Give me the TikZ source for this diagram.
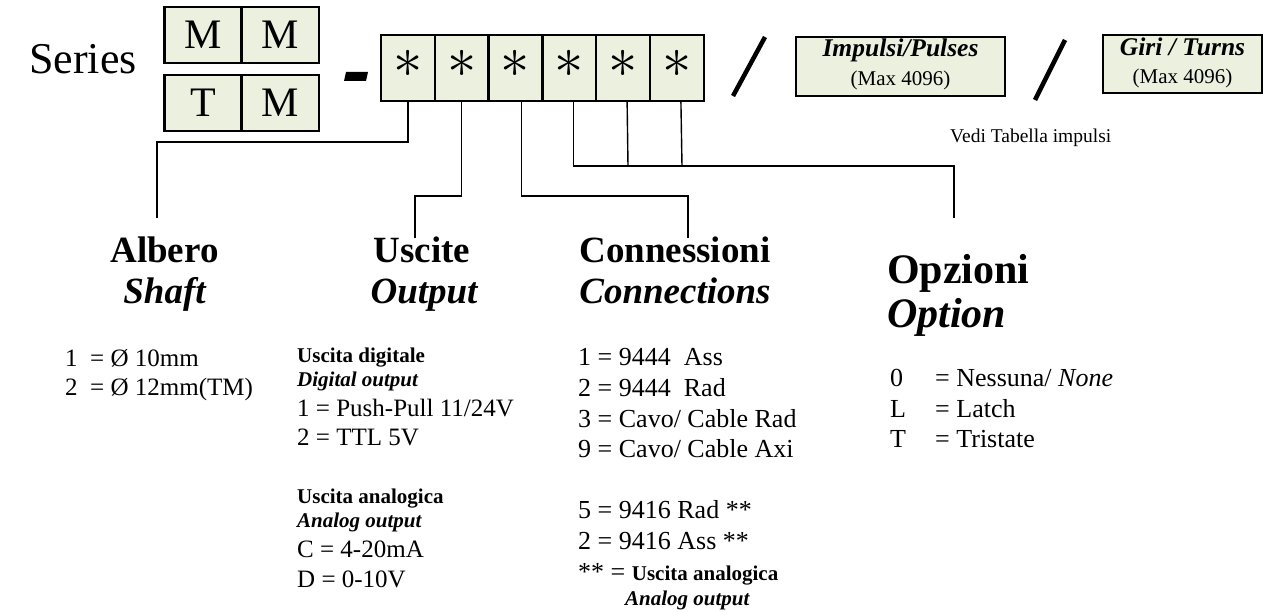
\documentclass[tikz,border=0pt]{standalone}
\usepackage{fontspec}
\setmainfont{Liberation Serif}
\definecolor{boxfill}{HTML}{EBF1DE}
\newcommand{\fs}[1]{\fontsize{#1}{#1}\selectfont}
\tikzset{
  cell/.style={draw, line width=2.4pt, fill=boxfill, inner sep=0pt, outer sep=0pt},
  lettercell/.style={cell, minimum width=77pt, minimum height=56pt, font=\fs{42}},
  starcell/.style={cell, minimum width=53.8pt, minimum height=66pt},
  infobox/.style={cell},
  boxtitle/.style={anchor=base, inner sep=0pt, font=\fs{25.5}\bfseries\itshape},
  boxsub/.style={anchor=base, inner sep=0pt, font=\fs{21}},
  conn/.style={line width=1.4pt},
  slashline/.style={line width=4.5pt},
  head/.style={anchor=base, inner sep=0pt, font=\fs{37}\bfseries},
  headit/.style={anchor=base, inner sep=0pt, font=\fs{37}\bfseries\itshape},
  item/.style={anchor=base west, inner sep=0pt, font=\fs{25}},
  smallb/.style={anchor=base west, inner sep=0pt, font=\fs{21}\bfseries},
  smallbi/.style={anchor=base west, inner sep=0pt, font=\fs{21}\bfseries\itshape},
}
\newcommand{\bigast}{\raisebox{8pt}{\scalebox{2.35}{\fs{24.88}$\ast$}}}
\begin{document}
\begin{tikzpicture}[x=1pt,y=-1pt]
\useasboundingbox (0,0) rectangle (1277,612);
% Series label
\node[anchor=base west, inner sep=0pt, font=\fs{44}] (series) at (29,74) {Series};
% MM / TM boxes
\node[lettercell] (m1) at (203,35) {M};
\node[lettercell] (m2) at (280.5,35) {M};
\node[lettercell] (t1) at (203,103) {T};
\node[lettercell] (t2) at (280.5,103) {M};
% dash
\fill (346,72) -- (368,72) -- (366,81) -- (344,81) -- cycle;
% star cells
\foreach \i in {1,...,6}{
  \node[starcell] (s\i) at ({381+26.9+53.8*(\i-1)},68) {\bigast};
}
% slashes
\coordinate (sl1a) at (733,96); \coordinate (sl1b) at (765,37);
\draw[slashline] (sl1a) -- (sl1b);
\coordinate (sl2a) at (1035,100); \coordinate (sl2b) at (1065,40);
\draw[slashline] (sl2a) -- (sl2b);
% info boxes
\node[infobox, minimum width=209pt, minimum height=59pt] (imp) at (900.5,66.5) {};
\node[boxtitle] (impt) at ([yshift=9.5pt]imp.center) {Impulsi/Pulses};
\node[boxsub] (imps) at ([yshift=-19.5pt]imp.center) {(Max 4096)};
\node[infobox, minimum width=159pt, minimum height=58pt] (giri) at (1182.5,64) {};
\node[boxtitle] (girit) at ([yshift=8pt]giri.center) {Giri / Turns};
\node[boxsub] (giris) at ([yshift=-20pt]giri.center) {(Max 4096)};
\node[anchor=base west, inner sep=0pt, font=\fs{19.5}] (vedi) at (950,143) {Vedi Tabella impulsi};
% connector coordinates
\coordinate (a1) at (157,142); \coordinate (a2) at (157,218);
\coordinate (u1) at (415,196); \coordinate (u2) at (415,238);
\coordinate (c1) at (688,196); \coordinate (c2) at (688,238);
\coordinate (o1) at (954,166); \coordinate (o2) at (954,218);
\coordinate (j5) at (628,166); \coordinate (j6) at (682,166);
\draw[conn] (s1.south) |- (a1) -- (a2);
\draw[conn] (s2.south) |- (u1) -- (u2);
\draw[conn] ([xshift=6pt]s3.south) |- (c1) -- (c2);
\draw[conn] ([xshift=4pt]s4.south) |- (o1) -- (o2);
\draw[conn] ([xshift=4pt]s5.south) -- (j5);
\draw[conn] ([xshift=4pt]s6.south) -- (j6);
% headings
\node[head] (albero) at (164.5,263) {Albero};
\node[headit] (shaft) at (164.5,304) {Shaft};
\node[head] (uscite) at (422,263) {Uscite};
\node[headit] (output) at (424,304) {Output};
\node[head] (conn) at (675,263) {Connessioni};
\node[headit] (connect) at (675,304) {Connections};
\node[anchor=base west, inner sep=0pt, font=\fs{42}\bfseries] (opz) at (887,284) {Opzioni};
\node[anchor=base west, inner sep=0pt, font=\fs{42}\bfseries\itshape] (opt) at (887,327) {Option};
% Albero list
\node[item] (al1) at (65,366) {1\ \ = Ø 10mm};
\node[item] (al2) at (65,395) {2\ \ = Ø 12mm(TM)};
% Uscite list
\node[smallb] (ud) at (297,362) {Uscita digitale};
\node[smallbi] (do) at (297,386) {Digital output};
\node[item] (u1t) at (297,416) {1\ = Push-Pull 11/24V};
\node[item] (u2t) at (297,445) {2\ = TTL 5V};
\node[smallb] (ua) at (297,503) {Uscita analogica};
\node[smallbi] (ao) at (297,527) {Analog output};
\node[item] (uct) at (297,557) {C = 4-20mA};
\node[item] (udt) at (297,587) {D = 0-10V};
% Connessioni list
\node[item, font=\fs{26}] (k1) at (578,365) {1 = 9444\ \ Ass};
\node[item, font=\fs{26}] (k2) at (578,396) {2 = 9444\ \ Rad};
\node[item, font=\fs{26}] (k3) at (578,427) {3 = Cavo/ Cable Rad};
\node[item, font=\fs{26}] (k9) at (578,457) {9 = Cavo/ Cable Axi};
\node[item, font=\fs{26}] (k5) at (578,518) {5 = 9416 Rad **};
\node[item, font=\fs{26}] (k2b) at (578,549) {2 = 9416 Ass **};
\node[item, font=\fs{26}] (kst) at (578,580) {** = {\fs{21}\bfseries Uscita analogica}};
\node[smallbi] (kao) at (625,605) {Analog output};
% Options list
\node[item, font=\fs{26}] (op0) at (890,386) {0};
\node[item, font=\fs{26}] (op0t) at (935,386) {= Nessuna/ \textit{None}};
\node[item, font=\fs{26}] (opL) at (890,417) {L};
\node[item, font=\fs{26}] (opLt) at (935,417) {= Latch};
\node[item, font=\fs{26}] (opT) at (890,447) {T};
\node[item, font=\fs{26}] (opTt) at (935,447) {= Tristate};
\end{tikzpicture}
\end{document}
